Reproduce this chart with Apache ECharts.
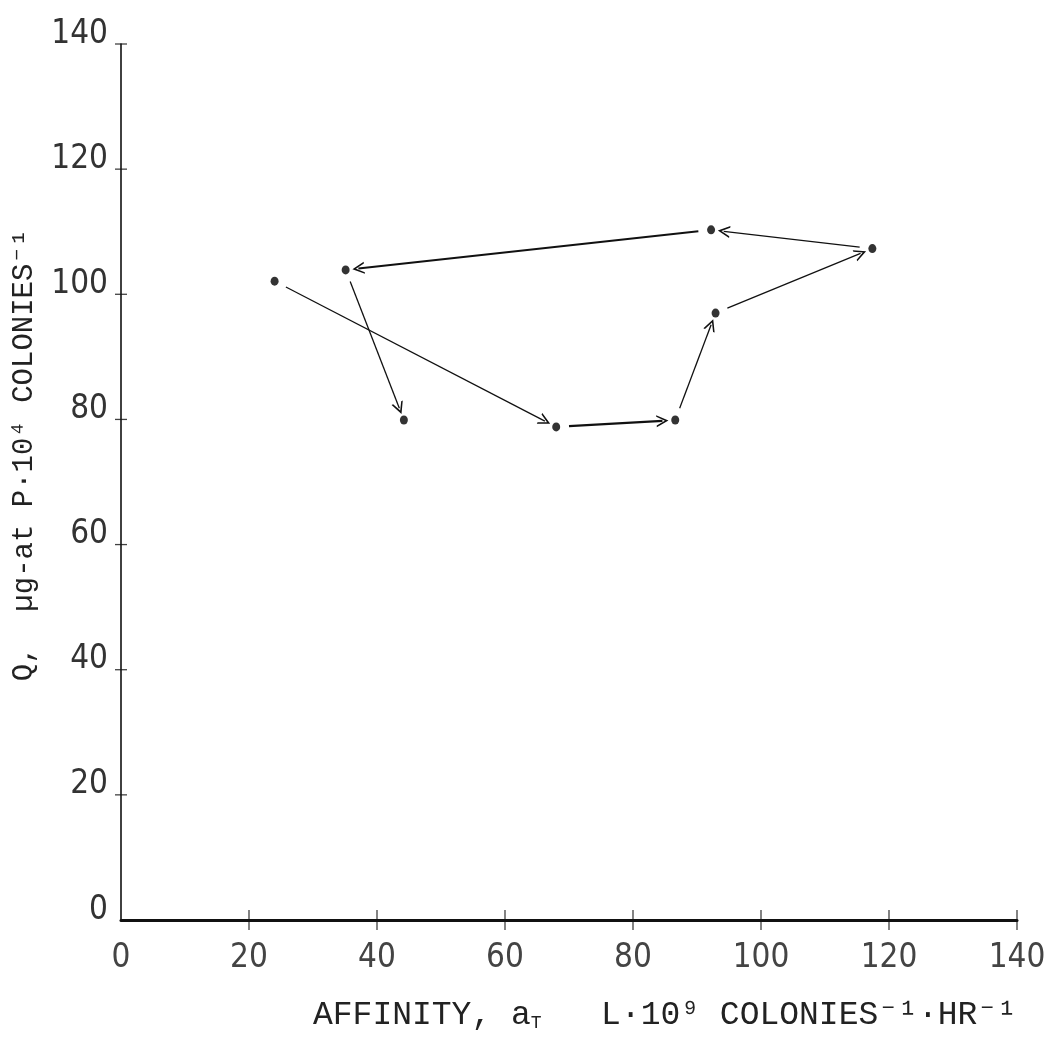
<!DOCTYPE html>
<html>
<head>
<meta charset="utf-8">
<script src="https://cdn.jsdelivr.net/npm/echarts@6/dist/echarts.min.js"></script>
<style>
  html, body { margin: 0; padding: 0; background: #fff; }
  #chart { width: 1057px; height: 1044px; }
</style>
</head>
<body>
<div id="chart"></div>
<script>
// points in the order the arrows visit them
const affinity = [24, 68, 86.6, 92.9, 117.4, 92.2, 35.1, 44.2];
const quota = [102.1, 78.8, 79.9, 97.0, 107.3, 110.3, 103.9, 79.9];
const tickLabels = ['0', '20', '40', '60', '80', '100', '120', '140'];

const font = '"Liberation Sans Narrow", "DejaVu Sans Condensed", sans-serif';
const titleFont = '"Liberation Mono", "DejaVu Sans Mono", monospace';
const ink = '#111';

document.addEventListener('DOMContentLoaded', function() {
    const chart = echarts.init(document.getElementById('chart'));

    const points = affinity.map((x, i) => [x, quota[i]]);
    const tickValues = tickLabels.map(Number);

    // arrows between consecutive points, pulled back a little from each dot
    const gap = 2;
    const heavy = [1, 5];
    const arrows = [];
    for (let i = 0; i < points.length - 1; i++) {
        const a = points[i], b = points[i + 1];
        const dx = b[0] - a[0], dy = b[1] - a[1];
        const len = Math.sqrt(dx * dx + dy * dy);
        const ux = dx / len, uy = dy / len;
        arrows.push({
            coords: [[a[0] + ux * gap, a[1] + uy * gap], [b[0] - ux * gap, b[1] - uy * gap]],
            lineStyle: { width: heavy.includes(i) ? 2.2 : 1.3 }
        });
    }

    const chevron = 'path://M0,10 L5,0 L10,10 L8.6,10 L5,3 L1.4,10 Z';

    const labelOf = v => tickLabels[Math.round(v / 20)];

    // the old plot has ticks that cross the axis, so they are drawn as small bars
    const crossTicks = (data, size) => ({
        type: 'scatter',
        symbol: 'rect',
        symbolSize: size,
        itemStyle: { color: ink },
        data: data,
        clip: false,
        silent: true,
        z: 1
    });

    const option = {
        backgroundColor: '#fff',
        animation: false,
        grid: { left: 121, right: 40, top: 44, bottom: 124 },
        xAxis: {
            type: 'value', min: 0, max: 140, interval: 20,
            axisLine: { show: true, lineStyle: { color: ink, width: 3 } },
            axisTick: { show: false },
            axisLabel: { formatter: labelOf, margin: 22, fontFamily: font, fontSize: 33, color: '#444' },
            splitLine: { show: false },
            name: 'AFFINITY, a{sub|T}   L·10⁹ COLONIES⁻¹·HR⁻¹',
            nameLocation: 'middle', nameGap: 78,
            nameTextStyle: {
                fontFamily: titleFont, fontSize: 33, color: '#222', padding: [0, 0, 0, 192],
                rich: { sub: { fontFamily: titleFont, fontSize: 18, color: '#222', padding: [16, 0, 0, 0] } }
            }
        },
        yAxis: {
            type: 'value', min: 0, max: 140, interval: 20,
            axisLine: { show: true, lineStyle: { color: ink, width: 1.6 } },
            axisTick: { show: false },
            axisLabel: {
                formatter: labelOf, margin: 13, fontFamily: font, fontSize: 33, color: '#333',
                verticalAlign: 'bottom', lineHeight: 20
            },
            splitLine: { show: false },
            name: 'Q,  µg-at P·10⁴ COLONIES⁻¹',
            nameLocation: 'middle', nameGap: 82, nameRotate: 90,
            nameTextStyle: { fontFamily: titleFont, fontSize: 29, color: '#222', padding: [0, 0, 0, 54] }
        },
        series: [
            crossTicks(tickValues.slice(1).map(v => [v, 0]), [1.3, 20]),
            crossTicks(tickValues.slice(1).map(v => [0, v]), [12, 1.3]),
        {
            type: 'lines',
            coordinateSystem: 'cartesian2d',
            symbol: ['none', chevron],
            symbolSize: [9, 12],
            lineStyle: { color: ink, width: 1.3, opacity: 1 },
            data: arrows,
            silent: true,
            z: 2
        }, {
            type: 'scatter',
            symbol: 'circle',
            symbolSize: [8, 9],
            itemStyle: { color: '#000' },
            data: points,
            z: 3
        }]
    };

    chart.setOption(option);
});
</script>
</body>
</html>
